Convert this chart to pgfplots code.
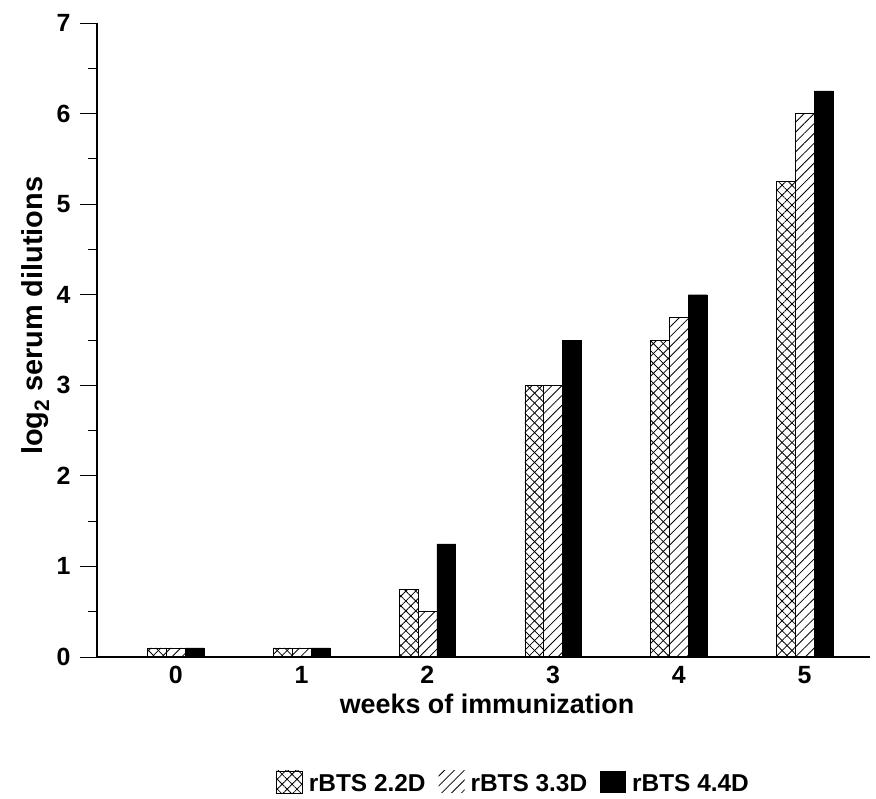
\documentclass[border=0pt]{standalone}
\usepackage{fontspec}
\setmainfont{Liberation Sans}
\usepackage{pgfplots}
\usepackage{pgfplotstable}
\pgfplotsset{compat=1.18}
\usetikzlibrary{patterns.meta}

\pgfplotstableread{
week a b c
0 0.1 0.1 0.1
1 0.1 0.1 0.1
2 0.75 0.5 1.25
3 3.0 3.0 3.5
4 3.5 3.75 4.0
5 5.25 6.0 6.25
}\data

\tikzset{
  xhatch/.style={pattern={Lines[angle=45,distance=7bp,line width=0.8bp]}, pattern color=black,
    postaction={pattern={Lines[angle=-45,distance=7bp,line width=0.8bp]}, pattern color=black}},
  nehatch/.style={pattern={Lines[angle=45,distance=7bp,line width=0.8bp]}, pattern color=black},
}

\begin{document}
\begin{tikzpicture}
\begin{axis}[
  at={(0,0)}, anchor=south west, scale only axis,
  width=773bp, height=634bp,
  xmin=-0.627, xmax=5.52, ymin=0, ymax=7,
  axis x line*=bottom, axis y line*=left,
  axis line style={line width=1.2bp, -},
  xtick={0,...,5}, ytick={0,...,7}, minor ytick={0.5,1.5,...,6.5},
  x tick style={draw=none},
  y tick style={line width=0.8bp, black},
  tick align=outside, major tick length=17bp, minor tick length=9bp,
  /pgf/number format/assume math mode=true,
  ticklabel style={font=\fontsize{25}{25}\selectfont\bfseries},
  xticklabel style={anchor=north, text height=18bp, text depth=0bp, yshift=12bp},
  yticklabel style={xshift=-6bp},
  xlabel={weeks of immunization},
  ylabel={log\raisebox{-0.45ex}{\fontsize{21}{21}\selectfont 2} serum dilutions},
  every axis x label/.style={at={(axis description cs:0.5045,0)}, anchor=center, yshift=-47bp,
    font=\fontsize{27}{27}\selectfont\bfseries},
  every axis y label/.style={at={(axis description cs:-0.080,0.538)}, rotate=90, anchor=center,
    font=\fontsize{29}{29}\selectfont\bfseries},
  legend columns=3,
  legend style={at={(axis description cs:0.539,0)}, anchor=center, yshift=-126bp, draw=none,
    font=\fontsize{24.5}{24.5}\selectfont\bfseries,
    /tikz/every odd column/.append style={column sep=4bp},
    /tikz/every even column/.append style={column sep=11bp}},
  legend image code/.code={\path[#1,draw=none] (0bp,-9bp) rectangle (26bp,13bp);},
]
\addplot[ybar, bar width=0.15, bar shift=-0.15, draw=black, line width=0.5bp, xhatch]
  table[x=week,y=a]{\data};
\addlegendentry{rBTS 2.2D}
\addplot[ybar, bar width=0.15, bar shift=0, draw=black, line width=0.5bp, nehatch]
  table[x=week,y=b]{\data};
\addlegendentry{rBTS 3.3D}
\addplot[ybar, bar width=0.15, bar shift=0.15, draw=black, fill=black]
  table[x=week,y=c]{\data};
\addlegendentry{rBTS 4.4D}
\end{axis}
\pgfresetboundingbox
\path[use as bounding box] (-97bp,-142bp) rectangle (779bp,657bp);
\end{tikzpicture}
\end{document}
